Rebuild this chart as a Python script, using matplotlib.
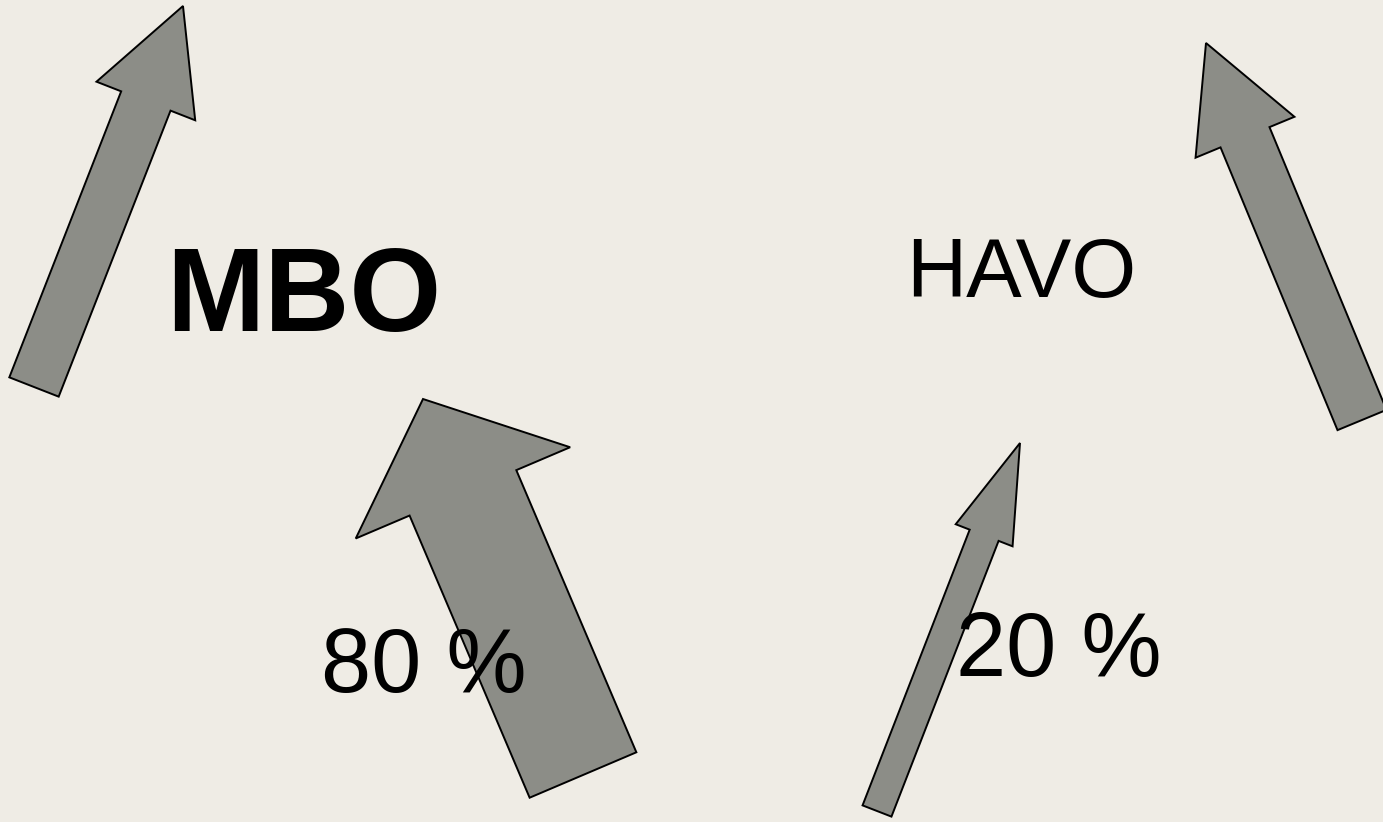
import numpy as np
import matplotlib
matplotlib.use('Agg')
import matplotlib.pyplot as plt
from matplotlib.patches import Polygon

# slide size in pixels
W, H = 1383, 822

# arrows: tail centre, tip, shaft width, head width, head length (pixels)
arrow_tails = [(34, 387), (583, 775), (877, 811), (1362, 420)]
arrow_tips = [(183, 6), (423, 399), (1020, 443), (1206, 43)]
shaft_widths = [53, 116, 31, 53]
head_widths = [106, 233, 61, 107]
head_lengths = [102, 102, 99, 102]

# labels (x centre, baseline y)
labels = ['MBO', 'HAVO', '80 %', '20 %']
label_pos = [(304, 331), (1021, 297), (424, 692), (1059, 676)]
label_sizes = [85, 60, 65, 65]
label_weights = ['bold', 'normal', 'normal', 'normal']

bg = '#efece5'
arrow_fill = '#8c8d87'


def arrow_poly(tail, tip, sw, hw, hl):
    tail = np.array(tail, float)
    tip = np.array(tip, float)
    d = tip - tail
    d = d / np.linalg.norm(d)
    n = np.array([-d[1], d[0]])
    base = tip - d * hl
    pts = [tail + n * sw / 2, base + n * sw / 2, base + n * hw / 2, tip,
           base - n * hw / 2, base - n * sw / 2, tail - n * sw / 2]
    return np.array(pts)


fig = plt.figure(figsize=(W / 100, H / 100), dpi=100)
fig.patch.set_facecolor(bg)
ax = fig.add_axes([0, 0, 1, 1])
ax.set_facecolor(bg)
ax.set_xlim(0, W)
ax.set_ylim(H, 0)
ax.axis('off')

for i in range(len(arrow_tips)):
    pts = arrow_poly(arrow_tails[i], arrow_tips[i], shaft_widths[i],
                     head_widths[i], head_lengths[i])
    ax.add_patch(Polygon(pts, closed=True, facecolor=arrow_fill,
                         edgecolor='black', linewidth=1.4, zorder=2))

for txt, (x, y), s, wt in zip(labels, label_pos, label_sizes, label_weights):
    ax.text(x, y, txt, fontsize=s, family='Liberation Sans', weight=wt,
            color='black', ha='center', va='baseline', zorder=3)

fig.savefig('out.png', dpi=100, facecolor=bg)
